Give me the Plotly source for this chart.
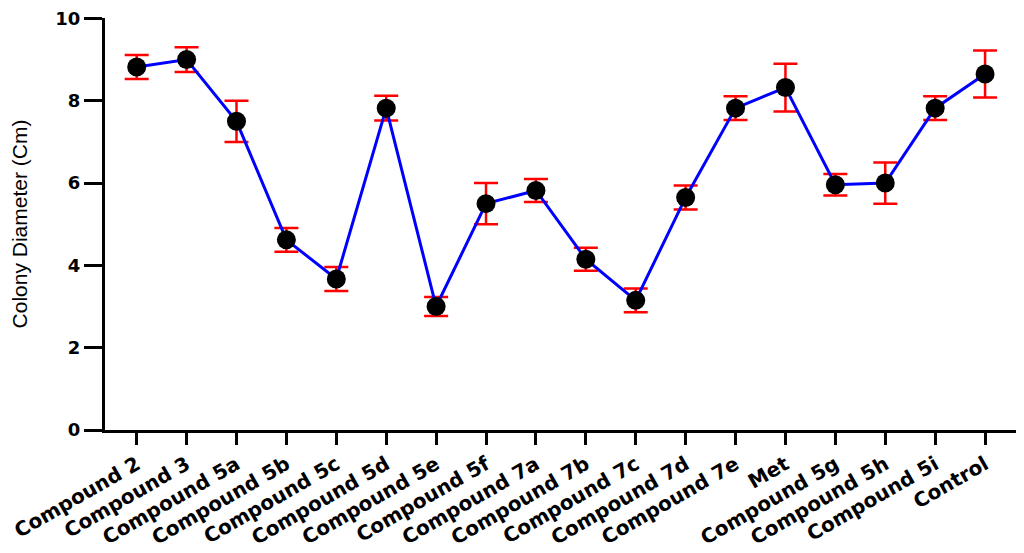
import plotly.graph_objects as go

categories = ["Compound 2", "Compound 3", "Compound 5a", "Compound 5b", "Compound 5c",
              "Compound 5d", "Compound 5e", "Compound 5f", "Compound 7a", "Compound 7b",
              "Compound 7c", "Compound 7d", "Compound 7e", "Met", "Compound 5g",
              "Compound 5h", "Compound 5i", "Control"]
means = [8.82, 9.0, 7.5, 4.62, 3.67, 7.82, 3.0, 5.5, 5.82, 4.15,
         3.15, 5.65, 7.82, 8.32, 5.96, 6.0, 7.82, 8.65]
errors = [0.29, 0.3, 0.5, 0.29, 0.29, 0.3, 0.23, 0.5, 0.28, 0.28,
          0.29, 0.29, 0.29, 0.58, 0.26, 0.5, 0.29, 0.57]
y_ticks = [0, 2, 4, 6, 8, 10]

xpos = list(range(len(categories)))

fig = go.Figure()
fig.add_trace(go.Scatter(
    x=xpos, y=means, mode="lines+markers",
    line=dict(color="#0000ff", width=3),
    marker=dict(color="black", size=19),
    error_y=dict(type="data", array=errors, visible=True,
                 color="#ff0000", thickness=2.5, width=12),
    showlegend=False,
))

# page body has an 8px default margin, so the figure is sized/offset to compensate
fig.update_layout(
    width=1016, height=545,
    margin=dict(l=97, r=4, t=10, b=123),
    plot_bgcolor="white", paper_bgcolor="white",
    xaxis=dict(
        range=[-0.635, 17.7],
        automargin=False,
        tickmode="array", tickvals=xpos, ticktext=categories,
        tickangle=-30,
        tickfont=dict(family="DejaVu Sans", size=20, color="black", weight="bold"),
        showline=True, linecolor="black", linewidth=3,
        ticks="outside", ticklen=12, tickwidth=3, tickcolor="black",
        showgrid=False, zeroline=False,
    ),
    yaxis=dict(
        range=[0, 10.01],
        automargin=False,
        ticklabeloverflow="allow",
        tickmode="array", tickvals=y_ticks,
        tickfont=dict(family="DejaVu Sans", size=18, color="black", weight="bold"),
        showline=True, linecolor="black", linewidth=3,
        ticks="outside", ticklen=18, tickwidth=3, tickcolor="black",
        showgrid=False, zeroline=False,
        title=dict(text="Colony Diameter (Cm)",
                   font=dict(family="Liberation Sans", size=21, color="black"),
                   standoff=22),
    ),
)

fig.write_html("out.html")
